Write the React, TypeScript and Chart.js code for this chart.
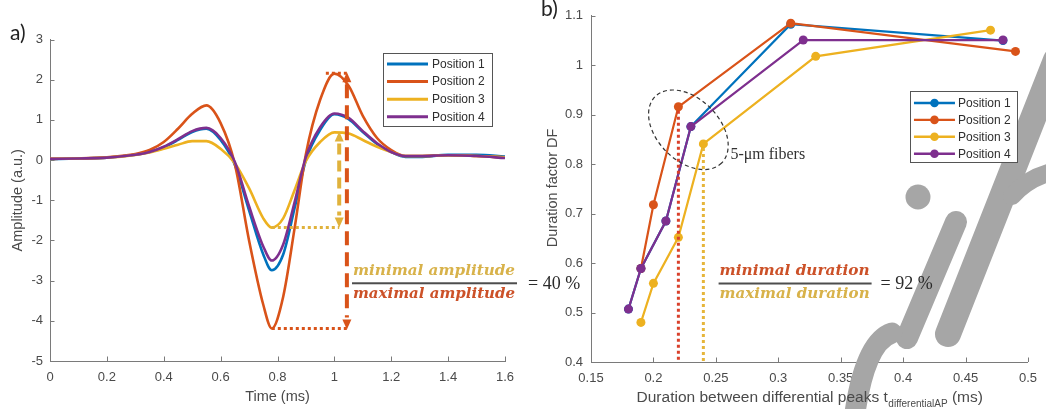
import React, { useEffect, useRef } from "react";
import { Chart, registerables } from "chart.js";

Chart.register(...registerables);

// ---------------- shared ----------------
const seriesNames = ["Position 1", "Position 2", "Position 3", "Position 4"];
const seriesColors = ["#0072BD", "#D95319", "#EDB120", "#7E2F8E"];
const drawOrder = [4, 3, 2, 1]; // Position 4 drawn on top (MATLAB order)

// ---------------- panel a: waveforms ----------------
const timeMs = [0, 0.1, 0.2, 0.3, 0.35, 0.4, 0.45, 0.5, 0.55, 0.6, 0.65, 0.7, 0.75, 0.78, 0.82, 0.86, 0.9, 0.95, 1.0, 1.05, 1.1, 1.15, 1.2, 1.25, 1.3, 1.4, 1.5, 1.6];
const ampPos1 = [0.02, 0.04, 0.06, 0.13, 0.2, 0.32, 0.5, 0.7, 0.78, 0.5, -0.12, -1.25, -2.35, -2.74, -2.35, -1.2, 0.0, 0.75, 1.14, 1.02, 0.7, 0.4, 0.2, 0.08, 0.08, 0.13, 0.13, 0.09];
const ampPos2 = [0.03, 0.04, 0.07, 0.15, 0.25, 0.45, 0.78, 1.15, 1.36, 0.92, -0.1, -2.0, -3.6, -4.19, -3.4, -1.7, 0.15, 1.5, 2.15, 1.85, 1.1, 0.55, 0.25, 0.1, 0.1, 0.12, 0.1, 0.07];
const ampPos3 = [0.03, 0.04, 0.06, 0.13, 0.19, 0.28, 0.38, 0.47, 0.47, 0.28, -0.08, -0.7, -1.45, -1.68, -1.45, -0.75, -0.02, 0.45, 0.69, 0.66, 0.5, 0.33, 0.2, 0.1, 0.1, 0.12, 0.1, 0.07];
const ampPos4 = [0.03, 0.04, 0.06, 0.13, 0.2, 0.33, 0.52, 0.72, 0.8, 0.55, -0.05, -1.15, -2.15, -2.5, -2.1, -1.05, 0.08, 0.82, 1.16, 1.05, 0.72, 0.42, 0.2, 0.1, 0.1, 0.12, 0.1, 0.05];

const timeTicks = [0, 0.2, 0.4, 0.6, 0.8, 1, 1.2, 1.4, 1.6];
const timeTickLabels = ["0", "0.2", "0.4", "0.6", "0.8", "1", "1.2", "1.4", "1.6"];
const ampTicks = [-5, -4, -3, -2, -1, 0, 1, 2, 3];
const ampTickLabels = ["-5", "-4", "-3", "-2", "-1", "0", "1", "2", "3"];

// annotation values (data units)
const ampMaxPeak = 2.16;
const ampMaxTrough = -4.19;
const ampMinPeak = 0.71;
const ampMinTrough = -1.68;
const ampTroughTime = 0.78;
const ampMaxPeakTime = 0.97;
const ampMaxArrowTime = 1.044;
const ampMinArrowTime = 1.017;
const ampFracLeftTime = 1.062;
const ampFracBarValue = -3.066;
const ampNumerator = "minimal amplitude";
const ampDenominator = "maximal amplitude";
const ampRatio = "= 40 %";

// ---------------- panel b: duration factor ----------------
const durPos1X = [0.18, 0.19, 0.21, 0.23, 0.31, 0.48];
const durPos1Y = [0.507, 0.589, 0.685, 0.876, 1.083, 1.05];
const durPos2X = [0.19, 0.2, 0.22, 0.31, 0.49];
const durPos2Y = [0.589, 0.718, 0.916, 1.085, 1.028];
const durPos3X = [0.19, 0.2, 0.22, 0.24, 0.33, 0.47];
const durPos3Y = [0.48, 0.559, 0.652, 0.841, 1.018, 1.071];
const durPos4X = [0.18, 0.19, 0.21, 0.23, 0.32, 0.48];
const durPos4Y = [0.507, 0.589, 0.685, 0.876, 1.051, 1.051];

const durTicks = [0.15, 0.2, 0.25, 0.3, 0.35, 0.4, 0.45, 0.5];
const durTickLabels = ["0.15", "0.2", "0.25", "0.3", "0.35", "0.4", "0.45", "0.5"];
const dfTicks = [0.4, 0.5, 0.6, 0.7, 0.8, 0.9, 1.0, 1.1];
const dfTickLabels = ["0.4", "0.5", "0.6", "0.7", "0.8", "0.9", "1", "1.1"];

const durMinX = 0.22;
const durMinTop = 0.916;
const durMaxX = 0.24;
const durMaxTop = 0.841;
const fiberCenterX = 0.228;
const fiberCenterY = 0.8695;
const fiberLabel = "5-\u03bcm fibers";
const durFracLeftX = 0.2522;
const durFracBarValue = 0.5587;
const durNumerator = "minimal duration";
const durDenominator = "maximal duration";
const durRatio = "= 92 %";

// ---------------- styling ----------------
const AXIS = "#7a7a7a";
const LABEL = "#4a4a4a";
const SANS = "'Liberation Sans', Arial, Helvetica, sans-serif";
const SERIF = "'Liberation Serif', 'Times New Roman', serif";
const MATH = "'DejaVu Serif', serif";
const GOLD = "#d8b24a";
const RUST = "#cc5128";

function linearScale(min: number, max: number, ticks: number[], labels: string[], pad: number, isX: boolean, fit: number) {
  return {
    type: "linear" as const,
    min,
    max,
    grid: { display: false, drawTicks: false },
    border: { display: true, color: AXIS, width: 1 },
    afterBuildTicks: (s: any) => {
      s.ticks = ticks.map((v) => ({ value: v }));
    },
    afterFit: (s: any) => {
      if (isX) s.height = fit;
      else s.width = fit;
    },
    ticks: {
      autoSkip: false,
      maxRotation: 0,
      padding: pad,
      color: LABEL,
      font: { family: SANS, size: 13 },
      callback: (_v: any, i: number) => labels[i],
    },
  };
}

function innerTicks(ctx: CanvasRenderingContext2D, chart: any, xt: number[], yt: number[]) {
  const ca = chart.chartArea;
  const xs = chart.scales.x;
  const ys = chart.scales.y;
  ctx.strokeStyle = AXIS;
  ctx.lineWidth = 1;
  ctx.setLineDash([]);
  ctx.beginPath();
  xt.forEach((v) => {
    const px = Math.round(xs.getPixelForValue(v)) + 0.5;
    ctx.moveTo(px, ca.bottom);
    ctx.lineTo(px, ca.bottom - 4.5);
  });
  yt.forEach((v) => {
    const py = Math.round(ys.getPixelForValue(v)) + 0.5;
    ctx.moveTo(ca.left, py);
    ctx.lineTo(ca.left + 4.5, py);
  });
  ctx.stroke();
}

function fitText(ctx: CanvasRenderingContext2D, text: string, left: number, cy: number, width: number, color: string) {
  const w = ctx.measureText(text).width;
  const s = Math.max(0.75, Math.min(1.3, width / w));
  ctx.save();
  ctx.translate(left, cy);
  ctx.scale(s, 1);
  ctx.fillStyle = color;
  ctx.textAlign = "left";
  ctx.textBaseline = "middle";
  ctx.fillText(text, 0, 0);
  ctx.restore();
}

function drawFraction(
  ctx: CanvasRenderingContext2D,
  left: number,
  barY: number,
  barW: number,
  textW: number,
  num: string,
  numColor: string,
  den: string,
  denColor: string,
  eq: string,
  eqGap: number
) {
  ctx.fillStyle = "#4d4d4d";
  ctx.fillRect(left, barY - 1, barW, 2);
  ctx.font = `bold italic 15px ${MATH}`;
  fitText(ctx, num, left + 1, barY - 12.5, textW, numColor);
  fitText(ctx, den, left + 1, barY + 10.5, textW, denColor);
  ctx.font = `18px ${SERIF}`;
  ctx.fillStyle = "#2a2a2a";
  ctx.textAlign = "left";
  ctx.textBaseline = "middle";
  ctx.fillText(eq, left + barW + eqGap, barY + 0.5);
}

function dashedArrow(ctx: CanvasRenderingContext2D, x: number, yTop: number, yBot: number, color: string, dash: number[], head: number) {
  ctx.strokeStyle = color;
  ctx.lineWidth = 4;
  ctx.setLineDash(dash);
  ctx.beginPath();
  ctx.moveTo(x, yTop + head + 2);
  ctx.lineTo(x, yBot - head - 2);
  ctx.stroke();
  ctx.setLineDash([]);
  ctx.fillStyle = color;
  ctx.beginPath();
  ctx.moveTo(x, yTop);
  ctx.lineTo(x - 4.5, yTop + head);
  ctx.lineTo(x + 4.5, yTop + head);
  ctx.closePath();
  ctx.fill();
  ctx.beginPath();
  ctx.moveTo(x, yBot);
  ctx.lineTo(x - 4.5, yBot - head);
  ctx.lineTo(x + 4.5, yBot - head);
  ctx.closePath();
  ctx.fill();
}

function dotted(ctx: CanvasRenderingContext2D, x1: number, y1: number, x2: number, y2: number, color: string) {
  ctx.strokeStyle = color;
  ctx.lineWidth = 3;
  ctx.setLineDash([3, 3]);
  ctx.beginPath();
  ctx.moveTo(x1, y1);
  ctx.lineTo(x2, y2);
  ctx.stroke();
  ctx.setLineDash([]);
}

function drawLegend(ctx: CanvasRenderingContext2D, left: number, top: number, w: number, h: number, first: number, step: number, markers: boolean) {
  ctx.fillStyle = "#ffffff";
  ctx.fillRect(left, top, w, h);
  ctx.strokeStyle = "#555555";
  ctx.lineWidth = 1;
  ctx.setLineDash([]);
  ctx.strokeRect(Math.round(left) + 0.5, Math.round(top) + 0.5, w, h);
  ctx.font = `12px ${SANS}`;
  ctx.textAlign = "left";
  ctx.textBaseline = "middle";
  seriesNames.forEach((name, i) => {
    const y = top + first + i * step;
    ctx.strokeStyle = seriesColors[i];
    ctx.lineWidth = markers ? 2.4 : 3;
    ctx.beginPath();
    ctx.moveTo(left + 4, y);
    ctx.lineTo(left + 45, y);
    ctx.stroke();
    if (markers) {
      ctx.fillStyle = seriesColors[i];
      ctx.beginPath();
      ctx.arc(left + 24.5, y, 4.3, 0, Math.PI * 2);
      ctx.fill();
    }
    ctx.fillStyle = "#2e2e2e";
    ctx.fillText(name, left + (markers ? 48 : 49), y + 0.5);
  });
}

// ---------------- plugins ----------------
const panelAPlugin = {
  id: "panelADecor",
  afterDraw(chart: any) {
    const ctx: CanvasRenderingContext2D = chart.ctx;
    const ca = chart.chartArea;
    const xs = chart.scales.x;
    const ys = chart.scales.y;
    ctx.save();
    innerTicks(ctx, chart, timeTicks, ampTicks);

    // axis titles
    ctx.fillStyle = LABEL;
    ctx.font = `14.5px ${SANS}`;
    ctx.textAlign = "center";
    ctx.textBaseline = "middle";
    ctx.save();
    ctx.translate(ca.left - 32, (ca.top + ca.bottom) / 2);
    ctx.rotate(-Math.PI / 2);
    ctx.fillText("Amplitude (a.u.)", 0, 0);
    ctx.restore();
    ctx.fillText("Time (ms)", (ca.left + ca.right) / 2, ca.bottom + 36);

    // panel label
    ctx.fillStyle = "#222";
    ctx.font = `21px Lato, 'Open Sans', sans-serif`;
    ctx.textAlign = "left";
    ctx.textBaseline = "alphabetic";
    ctx.fillText("a)", 10, 40);

    // annotation: dotted guides + arrows
    const xTrough = xs.getPixelForValue(ampTroughTime);
    const xMaxArrow = xs.getPixelForValue(ampMaxArrowTime);
    const xMinArrow = xs.getPixelForValue(ampMinArrowTime);
    const yMaxPeak = ys.getPixelForValue(ampMaxPeak);
    const yMaxTrough = ys.getPixelForValue(ampMaxTrough);
    const yMinPeak = ys.getPixelForValue(ampMinPeak);
    const yMinTrough = ys.getPixelForValue(ampMinTrough);
    dotted(ctx, xTrough, yMaxTrough, xMaxArrow, yMaxTrough, "#d95319");
    dotted(ctx, xs.getPixelForValue(ampMaxPeakTime), yMaxPeak, xMaxArrow, yMaxPeak, "#d95319");
    dotted(ctx, xTrough, yMinTrough, xMinArrow, yMinTrough, "#e0b23c");
    dashedArrow(ctx, xMaxArrow, yMaxPeak - 1, yMaxTrough + 1, "#d95319", [14, 7], 10);
    dashedArrow(ctx, xMinArrow, yMinPeak, yMinTrough, "#e0b23c", [11, 6], 10);

    // fraction
    drawFraction(ctx, xs.getPixelForValue(ampFracLeftTime), ys.getPixelForValue(ampFracBarValue), 165, 162, ampNumerator, GOLD, ampDenominator, RUST, ampRatio, 11);

    // legend
    drawLegend(ctx, ca.right - 122, 53, 109, 73, 11, 17.6, false);
    ctx.restore();
  },
};

const panelBPlugin = {
  id: "panelBDecor",
  afterDatasetsDraw(chart: any) {
    // faint watermark shapes seen over the right panel
    const ctx: CanvasRenderingContext2D = chart.ctx;
    ctx.save();
    ctx.fillStyle = "#a6a6a6";
    ctx.strokeStyle = "#a6a6a6";
    ctx.lineCap = "round";
    ctx.beginPath();
    ctx.arc(918, 197, 12.5, 0, Math.PI * 2);
    ctx.fill();
    ctx.lineWidth = 22;
    ctx.beginPath();
    ctx.moveTo(956, 222);
    ctx.lineTo(907, 338);
    ctx.stroke();
    ctx.lineWidth = 26;
    ctx.beginPath();
    ctx.moveTo(1056, 60);
    ctx.lineTo(948, 334);
    ctx.stroke();
    ctx.lineWidth = 18;
    ctx.beginPath();
    ctx.moveTo(1012, 196);
    ctx.quadraticCurveTo(1028, 178, 1052, 172);
    ctx.stroke();
    ctx.lineWidth = 21;
    ctx.beginPath();
    ctx.moveTo(892, 333);
    ctx.quadraticCurveTo(864, 342, 854, 420);
    ctx.stroke();
    ctx.restore();
  },
  afterDraw(chart: any) {
    const ctx: CanvasRenderingContext2D = chart.ctx;
    const ca = chart.chartArea;
    const xs = chart.scales.x;
    const ys = chart.scales.y;
    ctx.save();
    innerTicks(ctx, chart, durTicks, dfTicks);

    // axis titles
    ctx.fillStyle = LABEL;
    ctx.font = `14.5px ${SANS}`;
    ctx.textAlign = "center";
    ctx.textBaseline = "middle";
    ctx.save();
    ctx.translate(ca.left - 38, (ca.top + ca.bottom) / 2 - 1);
    ctx.rotate(-Math.PI / 2);
    ctx.fillText("Duration factor DF", 0, 0);
    ctx.restore();

    const mainT = "Duration between differential peaks t";
    const subT = "differentialAP";
    const tailT = " (ms)";
    const mainFont = `15.5px ${SANS}`;
    const subFont = `10px ${SANS}`;
    ctx.font = mainFont;
    const w1 = ctx.measureText(mainT).width;
    const w3 = ctx.measureText(tailT).width;
    ctx.font = subFont;
    const w2 = ctx.measureText(subT).width;
    const total = w1 + w2 + w3;
    const x0 = (ca.left + ca.right) / 2 - total / 2;
    const base = ca.bottom + 40;
    ctx.textAlign = "left";
    ctx.textBaseline = "alphabetic";
    ctx.font = mainFont;
    ctx.fillText(mainT, x0, base);
    ctx.font = subFont;
    ctx.fillText(subT, x0 + w1 + 0.5, base + 5);
    ctx.font = mainFont;
    ctx.fillText(tailT, x0 + w1 + w2 + 0.5, base);

    // panel label
    ctx.fillStyle = "#222";
    ctx.font = `21px Lato, 'Open Sans', sans-serif`;
    ctx.fillText("b)", 541, 16);

    // dotted verticals
    const yAxis = ca.bottom;
    dotted(ctx, xs.getPixelForValue(durMinX), ys.getPixelForValue(durMinTop) + 4, xs.getPixelForValue(durMinX), yAxis, "#d9402b");
    dotted(ctx, xs.getPixelForValue(durMaxX), ys.getPixelForValue(durMaxTop) + 4, xs.getPixelForValue(durMaxX), yAxis, "#e6b53a");

    // fiber ellipse
    const ex = xs.getPixelForValue(fiberCenterX);
    const ey = ys.getPixelForValue(fiberCenterY);
    ctx.strokeStyle = "#333";
    ctx.lineWidth = 1.2;
    ctx.setLineDash([4, 3]);
    ctx.beginPath();
    ctx.ellipse(ex, ey, 47, 31, Math.PI / 4, 0, Math.PI * 2);
    ctx.stroke();
    ctx.setLineDash([]);
    ctx.fillStyle = "#333";
    ctx.font = `16px ${SERIF}`;
    ctx.textAlign = "left";
    ctx.textBaseline = "middle";
    ctx.fillText(fiberLabel, ex + 42, ey + 25);

    // fraction
    drawFraction(ctx, xs.getPixelForValue(durFracLeftX), ys.getPixelForValue(durFracBarValue), 153, 150, durNumerator, RUST, durDenominator, GOLD, durRatio, 9);

    // legend
    drawLegend(ctx, ca.right - 118, 91, 107, 71, 12, 16.9, true);
    ctx.restore();
  },
};

function configA(): any {
  const series = [ampPos1, ampPos2, ampPos3, ampPos4];
  return {
    type: "line",
    data: {
      datasets: series.map((vals, i) => ({
        label: seriesNames[i],
        data: timeMs.map((t, k) => ({ x: t, y: vals[k] })),
        borderColor: seriesColors[i],
        backgroundColor: seriesColors[i],
        borderWidth: 2.6,
        pointRadius: 0,
        cubicInterpolationMode: "monotone",
        fill: false,
        order: drawOrder[i],
      })),
    },
    options: {
      animation: false,
      responsive: false,
      devicePixelRatio: 1,
      events: [],
      layout: { padding: { left: 0, top: 39.5, right: 541, bottom: 0 } },
      plugins: { legend: { display: false }, tooltip: { enabled: false } },
      scales: {
        x: linearScale(0, 1.6, timeTicks, timeTickLabels, 9, true, 48),
        y: linearScale(-5, 3, ampTicks, ampTickLabels, 7, false, 50),
      },
    },
    plugins: [panelAPlugin],
  };
}

function configB(): any {
  const xs = [durPos1X, durPos2X, durPos3X, durPos4X];
  const ys = [durPos1Y, durPos2Y, durPos3Y, durPos4Y];
  return {
    type: "line",
    data: {
      datasets: xs.map((xv, i) => ({
        label: seriesNames[i],
        data: xv.map((x, k) => ({ x, y: ys[i][k] })),
        borderColor: seriesColors[i],
        backgroundColor: seriesColors[i],
        pointBackgroundColor: seriesColors[i],
        pointBorderWidth: 0,
        pointRadius: 4.5,
        borderWidth: 2.2,
        tension: 0,
        fill: false,
        order: drawOrder[i],
      })),
    },
    options: {
      animation: false,
      responsive: false,
      devicePixelRatio: 1,
      events: [],
      layout: { padding: { left: 523, top: 15, right: 13, bottom: 0 } },
      plugins: { legend: { display: false }, tooltip: { enabled: false } },
      scales: {
        x: linearScale(0.15, 0.5, durTicks, durTickLabels, 9, true, 47),
        y: linearScale(0.4, 1.1, dfTicks, dfTickLabels, 8, false, 68),
      },
    },
    plugins: [panelBPlugin],
  };
}

export default function App() {
  const refA = useRef<HTMLCanvasElement>(null);
  const refB = useRef<HTMLCanvasElement>(null);
  useEffect(() => {
    const a = new Chart(refA.current as HTMLCanvasElement, configA());
    const b = new Chart(refB.current as HTMLCanvasElement, configB());
    return () => {
      a.destroy();
      b.destroy();
    };
  }, []);
  return (
    <div style={{ position: "absolute", left: 0, top: 0, width: 1046, height: 409, background: "#ffffff", overflow: "hidden" }}>
      <canvas ref={refA} width={1046} height={409} style={{ position: "absolute", left: 0, top: 0, width: 1046, height: 409 }} />
      <canvas ref={refB} width={1046} height={409} style={{ position: "absolute", left: 0, top: 0, width: 1046, height: 409 }} />
    </div>
  );
}
